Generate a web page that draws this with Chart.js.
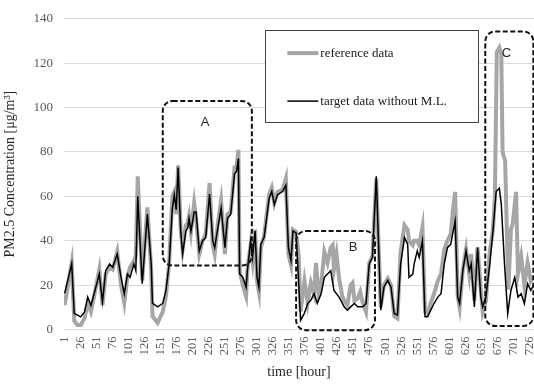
<!DOCTYPE html>
<html lang="en">
<head>
<meta charset="UTF-8" />
<title>PM2.5 Concentration</title>
<style>
  html, body { margin: 0; padding: 0; background: #fff; }
  .chart-container { position: relative; width: 534px; height: 384px; }
</style>
</head>
<body>
<div class="chart-container"><canvas id="pmChart" width="534" height="384"></canvas></div>
<script src="https://cdn.jsdelivr.net/npm/chart.js"></script>
<script>
  // tick labels of the time axis
  const tickHours = [1, 26, 51, 76, 101, 126, 151, 176, 201, 226, 251, 276, 301, 326, 351, 376,
    401, 426, 451, 476, 501, 526, 551, 576, 601, 626, 651, 676, 701, 726];

  // black line: target data without M.L.
  const targetHours = [1, 12, 16, 21, 26, 32, 37, 42, 47, 55, 60, 65, 71, 76, 83, 89, 94, 99, 103, 109,
    112, 115, 122, 130, 136, 138, 146, 154, 159, 164, 169, 172, 175, 178, 182, 185, 190, 193, 195, 198,
    203, 206, 211, 216, 221, 227, 232, 235, 240, 245, 251, 255, 260, 266, 269, 272, 274, 279, 284, 286,
    291, 294, 298, 301, 304, 307, 312, 320, 324, 328, 333, 341, 346, 350, 354, 357, 362, 369, 375, 380,
    385, 390, 395, 401, 406, 411, 416, 421, 429, 437, 442, 447, 453, 458, 466, 471, 476, 481, 487, 494,
    499, 505, 510, 515, 520, 525, 531, 536, 538, 544, 546, 551, 554, 559, 563, 567, 572, 577, 583, 588,
    593, 598, 603, 610, 614, 617, 622, 627, 632, 635, 640, 645, 650, 653, 658, 664, 669, 674, 679, 682,
    687, 692, 697, 703, 708, 713, 718, 723, 728, 732];
  const targetValues = [16.3, 29.6, 7.2, 6.5, 5.7, 7.9, 14.6, 10.9, 16.1, 25, 12.4, 26.5, 29.5, 28, 34, 23.5, 16.1, 25, 23.5, 29.5,
    26.5, 60, 20.6, 52, 29.5, 11.8, 10.2, 11.8, 17.6, 29.5, 54.7, 60.7, 54, 73, 44.4, 34, 44.4, 45.8, 50, 44.4,
    53, 53, 35.4, 39.9, 41.4, 61, 39.9, 36.9, 45.8, 54.7, 36.9, 50.3, 51.8, 70.4, 71.1, 77, 25, 23.5, 19.1, 26.5,
    39.9, 32.5, 44.4, 23.5, 19.1, 38.4, 41.4, 59.2, 62.2, 56.3, 60.7, 62.2, 65, 36.9, 31, 44.4, 43.5, 4.2, 7.4, 11.7,
    13.2, 16.1, 11.8, 16.1, 23.5, 25, 26.5, 17.6, 14.6, 10.2, 8.7, 10.2, 11.7, 10.2, 10.2, 11.7, 29.5, 32.5, 69, 8.7,
    19.1, 22.1, 19.1, 7.2, 6.5, 29.5, 41.4, 38.4, 23.5, 25, 29.5, 35.4, 32.5, 39.9, 5.7, 5.7, 8.7, 11.7, 14.6, 16.1,
    29.5, 36.9, 38.4, 48.8, 14.6, 11.7, 26.5, 35.4, 26.5, 29.5, 10.2, 36.9, 14.6, 10.2, 14.6, 29.5, 44.4, 62.2, 63.7, 56.3,
    29.5, 7.2, 17.6, 23.5, 14.6, 16.1, 11.7, 20.6, 17.6, 19.8];

  // gray line: reference data
  const refHours = [1, 12, 16, 21, 26, 32, 37, 42, 47, 55, 60, 65, 71, 76, 83, 89, 94, 99, 103, 109,
    112, 115, 122, 130, 136, 138, 146, 154, 159, 164, 169, 172, 175, 178, 182, 185, 190, 193, 195, 198,
    203, 206, 211, 216, 221, 227, 232, 235, 240, 245, 251, 255, 260, 266, 269, 272, 274, 279, 284, 286,
    291, 294, 298, 301, 304, 307, 312, 320, 324, 328, 333, 341, 346, 350, 354, 357, 362, 366, 369, 375,
    380, 385, 390, 393, 397, 401, 406, 411, 416, 419, 421, 425, 429, 434, 437, 442, 447, 450, 453, 458,
    462, 466, 471, 476, 481, 487, 494, 499, 505, 510, 515, 520, 525, 531, 536, 538, 544, 546, 551, 554,
    559, 563, 567, 572, 577, 583, 588, 593, 598, 603, 607, 610, 614, 617, 622, 627, 632, 635, 640, 645,
    650, 653, 658, 664, 669, 672, 675, 679, 682, 684, 688, 691, 693, 697, 700, 705, 708, 713, 718, 723,
    728, 732];
  const refValues = [11, 30, 4, 2, 2, 5, 12, 8, 15, 27, 11, 25, 28, 27, 35, 20, 12, 24, 28, 31,
    33, 69, 22, 55, 27, 6, 3, 8, 15, 30, 60, 62, 52, 74, 45, 36, 47, 48, 51, 44,
    57, 50, 34, 40, 43, 66, 38, 34, 48, 58, 34, 52, 53, 73, 73, 81, 26, 20, 15, 27,
    38, 31, 45, 22, 17, 37, 42, 61, 64, 57, 62, 63, 68, 34, 29, 45, 44, 33, 8, 22,
    12, 21, 16, 30, 16, 20, 35, 30, 37, 38, 27, 34, 23, 15, 13, 11, 20, 21, 13, 14,
    17, 12, 8, 30, 33, 68, 10, 20, 23, 20, 6, 5, 35, 47, 45, 40, 38, 40, 40, 38,
    46, 8, 7, 12, 16, 22, 25, 36, 40, 43, 55, 62, 15, 10, 27, 36, 25, 34, 13, 37,
    18, 8, 13, 35, 45, 60, 125, 127, 124, 80, 76, 40, 18, 45, 48, 62, 25, 33, 20, 30,
    22, 24];

  // dashed regions A, B, C (hours / concentration)
  const regionNames = ["A", "B", "C"];
  const regionStart = [154, 362, 657];
  const regionEnd = [293, 485, 732];
  const regionTop = [103, 44.4, 134.3];
  const regionBottom = [28.8, -0.3, 1.6];
  const regionLabelHour = [220, 451, 690];
  const regionLabelValue = [93.4, 36.9, 124.6];

  // legend box (hours / concentration)
  const legendLabels = ["reference data", "target data without M.L."];
  const legendBox = { start: 314, end: 646, top: 134.9, bottom: 93.4 };

  const serif = "'Liberation Serif', 'Times New Roman', serif";

  const toPoints = (hs, vs) => hs.map((h, i) => ({ x: h, y: vs[i] }));

  const annotations = {
    id: "annotations",
    afterDatasetsDraw(chart) {
      const { ctx, scales: { x, y } } = chart;
      ctx.save();
      ctx.strokeStyle = "#111";
      ctx.lineWidth = 2;
      ctx.setLineDash([5, 2.5]);
      regionNames.forEach((name, i) => {
        const l = x.getPixelForValue(regionStart[i]);
        const r = x.getPixelForValue(regionEnd[i]);
        const t = y.getPixelForValue(regionTop[i]);
        const b = y.getPixelForValue(regionBottom[i]);
        ctx.beginPath();
        ctx.roundRect(l, t, r - l, b - t, 10);
        ctx.stroke();
      });
      ctx.setLineDash([]);
      ctx.fillStyle = "#262626";
      ctx.font = "13px 'Liberation Sans', Arial, sans-serif";
      ctx.textAlign = "center";
      ctx.textBaseline = "middle";
      regionNames.forEach((name, i) => {
        ctx.fillText(name, x.getPixelForValue(regionLabelHour[i]), y.getPixelForValue(regionLabelValue[i]));
      });

      // legend
      const l = x.getPixelForValue(legendBox.start);
      const r = x.getPixelForValue(legendBox.end);
      const t = y.getPixelForValue(legendBox.top);
      const b = y.getPixelForValue(legendBox.bottom);
      ctx.fillStyle = "#fff";
      ctx.fillRect(l, t, r - l, b - t);
      ctx.strokeStyle = "#404040";
      ctx.lineWidth = 1;
      ctx.strokeRect(Math.round(l) + 0.5, Math.round(t) + 0.5, Math.round(r - l), Math.round(b - t));
      const rows = [t + 23, t + 71];
      const styles = [{ c: "#a6a6a6", w: 4 }, { c: "#000", w: 1.5 }];
      ctx.font = "13px " + serif;
      ctx.textAlign = "left";
      legendLabels.forEach((lab, i) => {
        ctx.strokeStyle = styles[i].c;
        ctx.lineWidth = styles[i].w;
        ctx.beginPath();
        ctx.moveTo(l + 22, rows[i]);
        ctx.lineTo(l + 53, rows[i]);
        ctx.stroke();
        ctx.fillStyle = "#1a1a1a";
        ctx.fillText(lab, l + 55, rows[i]);
      });
      ctx.restore();
    }
  };

  new Chart(document.getElementById("pmChart"), {
    type: "line",
    data: {
      datasets: [
        {
          label: legendLabels[1],
          data: toPoints(targetHours, targetValues),
          borderColor: "#000",
          borderWidth: 1.5,
          pointRadius: 0,
          tension: 0,
          order: 1
        },
        {
          label: legendLabels[0],
          data: toPoints(refHours, refValues),
          borderColor: "#a6a6a6",
          borderWidth: 4,
          pointRadius: 0,
          tension: 0,
          order: 2
        }
      ]
    },
    options: {
      responsive: false,
      animation: false,
      maintainAspectRatio: false,
      layout: { padding: { top: 16, right: 0, left: 0, bottom: 0 } },
      plugins: { legend: { display: false }, tooltip: { enabled: false } },
      scales: {
        x: {
          type: "linear",
          min: 0,
          max: 733,
          afterBuildTicks: (scale) => { scale.ticks = tickHours.map((v) => ({ value: v })); },
          afterFit: (scale) => { scale.height = 54.5; scale.paddingLeft = 0; scale.paddingRight = 0; },
          grid: { display: false, drawTicks: false },
          border: { display: true, color: "#d9d9d9" },
          ticks: {
            minRotation: 90,
            maxRotation: 90,
            padding: 7,
            autoSkip: false,
            color: "#595959",
            font: { family: serif, size: 12.5 }
          },
          title: {
            display: true,
            text: "time [hour]",
            color: "#262626",
            font: { family: serif, size: 14 },
            padding: { top: 2, bottom: 3 }
          }
        },
        y: {
          min: 0,
          max: 140,
          afterFit: (scale) => { scale.width = 64; },
          grid: { color: "#d9d9d9", drawTicks: false },
          border: { display: false },
          ticks: {
            stepSize: 20,
            padding: 11,
            color: "#595959",
            font: { family: serif, size: 13 }
          },
          title: {
            display: true,
            text: "PM2.5 Concentration [μg/m³]",
            color: "#262626",
            font: { family: serif, size: 14 },
            padding: { top: 2, bottom: 0 }
          }
        }
      }
    },
    plugins: [annotations]
  });
</script>
</body>
</html>
